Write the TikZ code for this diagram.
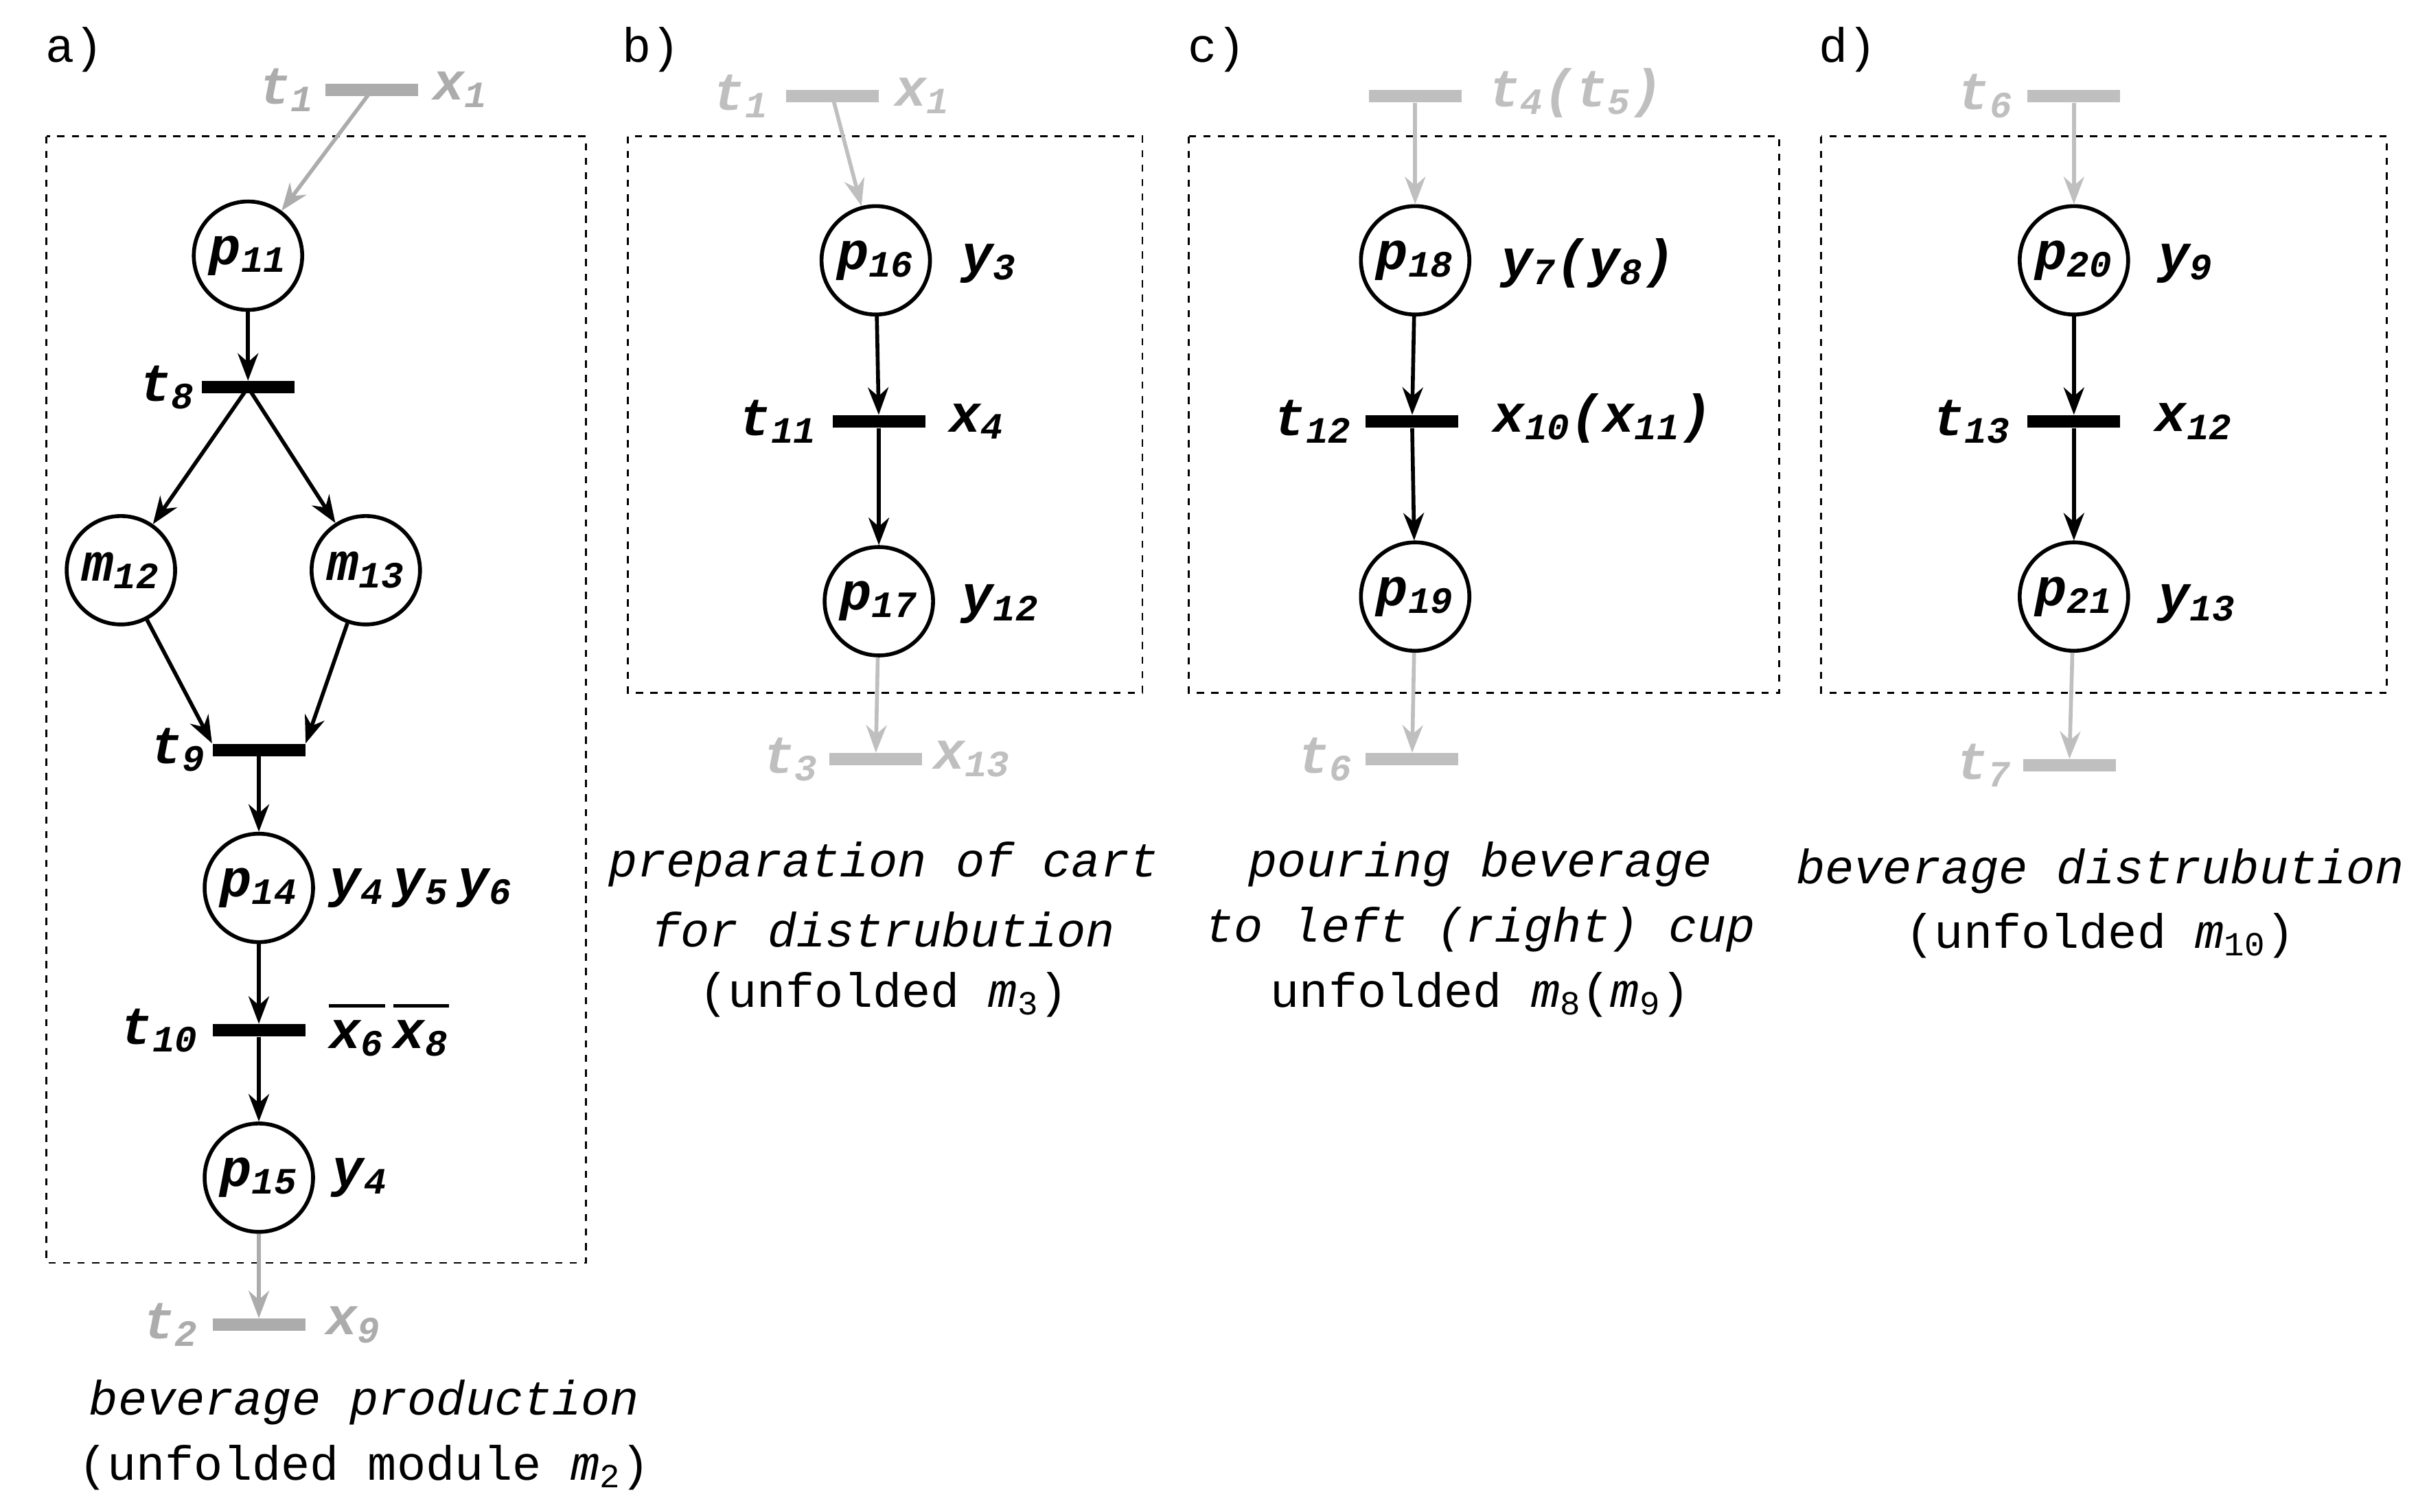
\documentclass[tikz,border=0pt]{standalone}
\usepackage{fontspec}
\setmonofont{Liberation Mono}
\usetikzlibrary{arrows.meta}
\newcommand{\lb}[2]{#1\textsubscript{#2}}
\newcommand{\ol}[1]{\rlap{\rule[0.78em]{1.05em}{1.2pt}}#1}
\tikzset{
    place/.style = {circle, draw, line width = 1.6pt, minimum size = 1.58cm, inner sep = 0pt},
    trans/.style = {fill = black, minimum width = 1.35cm, minimum height = 0.18cm, inner sep = 0pt},
    gtrans/.style = {fill = gray!50, minimum width = 1.35cm, minimum height = 0.18cm, inner sep = 0pt},
    lab/.style = {font = \fontsize{22}{26}\selectfont\ttfamily\bfseries\itshape, inner sep = 0pt},
    glab/.style = {lab, text = gray!50},
    capt/.style = {font = \fontsize{20}{25}\selectfont\ttfamily\itshape, align = center, inner sep = 0pt},
    captu/.style = {font = \fontsize{20}{25}\selectfont\ttfamily, inner sep = 0pt},
    arc/.style = {line width = 1.6pt, -{Stealth[length = 0.4cm, width = 0.3cm]}},
    garc/.style = {arc, gray!50},
    box/.style = {draw, dashed, line width = 0.8pt}
}
\begin{document}
\begin{tikzpicture}[x = 0.02258cm, y = -0.02258cm]
    \useasboundingbox (0, 0) rectangle (1560, 975.6);

    % Panel a
    \node [captu] (la) at (48, 32) {a)};
    \draw [box] (30, 88) rectangle (378, 815);
    \node [gtrans, fill = gray!65] (t1a) at (240, 58) {};
    \node [glab, text = gray!65] (t1al) at (185, 58) {\lb{t}{1}};
    \node [glab, text = gray!65] (x1al) at (297, 58) {\lb{x}{1}};
    \node [place] (p11) at (160, 165) {};
    \node [lab] at (p11) {\lb{p}{11}};
    \node [trans] (t8) at (160, 250) {};
    \node [lab] (t8l) at (108, 250) {\lb{t}{8}};
    \node [place] (m12) at (78, 368) {};
    \node [lab] at (m12) {\lb{m}{12}};
    \node [place] (m13) at (236, 368) {};
    \node [lab] at (m13) {\lb{m}{13}};
    \node [trans] (t9) at (167, 484) {};
    \node [lab] (t9l) at (115, 484) {\lb{t}{9}};
    \node [place] (p14) at (167, 573) {};
    \node [lab] at (p14) {\lb{p}{14}};
    \node [lab, anchor = west] (p14l) at (212, 573) {\lb{y}{4}\,\lb{y}{5}\,\lb{y}{6}};
    \node [trans] (t10) at (167, 665) {};
    \node [lab] (t10l) at (103, 665) {\lb{t}{10}};
    \node [lab, anchor = west] (t10r) at (212, 665) {\ol{x}\textsubscript{6}\,\ol{x}\textsubscript{8}};
    \node [place] (p15) at (167, 760) {};
    \node [lab] at (p15) {\lb{p}{15}};
    \node [lab, anchor = west] (p15l) at (214, 760) {\lb{y}{4}};
    \node [gtrans, fill = gray!65] (t2) at (167, 855) {};
    \node [glab, text = gray!65] (t2l) at (110, 855) {\lb{t}{2}};
    \node [glab, text = gray!65] (x9l) at (228, 855) {\lb{x}{9}};
    \node [capt] (ca1) at (235, 905) {beverage production};
    \node [captu] (ca2) at (235, 947) {(unfolded module \textit{m}\textsubscript{2})};

    \draw [garc, gray!65] (t1a.center) -- (p11);
    \draw [arc] (p11) -- (t8);
    \draw [arc] (t8.center) -- (m12);
    \draw [arc] (t8.center) -- (m13);
    \draw [arc] (m12) -- (t9.north west);
    \draw [arc] (m13) -- (t9.north east);
    \draw [arc] (t9) -- (p14);
    \draw [arc] (p14) -- (t10);
    \draw [arc] (t10) -- (p15);
    \draw [garc, gray!65] (p15) -- (t2);

    % Panel b
    \node [captu] (lb) at (420, 32) {b)};
    \draw [box] (405, 88) rectangle (737, 447);
    \node [gtrans] (t1b) at (537, 62) {};
    \node [glab] (t1bl) at (478, 62) {\lb{t}{1}};
    \node [glab] (x1bl) at (595, 62) {\lb{x}{1}};
    \node [place] (p16) at (565, 168) {};
    \node [lab] at (p16) {\lb{p}{16}};
    \node [lab, anchor = west] (p16l) at (620, 170) {\lb{y}{3}};
    \node [trans] (t11) at (567, 272) {};
    \node [lab] (t11l) at (502, 272) {\lb{t}{11}};
    \node [lab, anchor = west] (x4l) at (612, 272) {\lb{x}{4}};
    \node [place] (p17) at (567, 388) {};
    \node [lab] at (p17) {\lb{p}{17}};
    \node [lab, anchor = west] (p17l) at (620, 390) {\lb{y}{12}};
    \node [gtrans] (t3) at (565, 490) {};
    \node [glab] (t3l) at (510, 490) {\lb{t}{3}};
    \node [glab] (x13l) at (627, 490) {\lb{x}{13}};
    \node [capt] (cb1) at (570, 558) {preparation of cart};
    \node [capt] (cb2) at (570, 600) {for distrubution};
    \node [captu] (cb3) at (570, 642) {(unfolded \textit{m}\textsubscript{3})};

    \draw [garc] (t1b.center) -- (p16);
    \draw [arc] (p16) -- (t11);
    \draw [arc] (t11) -- (p17);
    \draw [garc] (p17) -- (t3);

    % Panel c
    \node [captu] (lc) at (785, 32) {c)};
    \draw [box] (767, 88) rectangle (1148, 447);
    \node [gtrans] (t4) at (913, 62) {};
    \node [glab, anchor = west] (t4l) at (960, 60) {\lb{t}{4}(\lb{t}{5})};
    \node [place] (p18) at (913, 168) {};
    \node [lab] at (p18) {\lb{p}{18}};
    \node [lab, anchor = west] (p18l) at (968, 170) {\lb{y}{7}(\lb{y}{8})};
    \node [trans] (t12) at (911, 272) {};
    \node [lab] (t12l) at (847, 272) {\lb{t}{12}};
    \node [lab, anchor = west] (x10l) at (963, 270) {\lb{x}{10}(\lb{x}{11})};
    \node [place] (p19) at (913, 385) {};
    \node [lab] at (p19) {\lb{p}{19}};
    \node [gtrans] (t6c) at (911, 490) {};
    \node [glab] (t6cl) at (855, 490) {\lb{t}{6}};
    \node [capt] (cc1) at (955, 558) {pouring beverage};
    \node [capt] (cc2) at (955, 600) {to left (right) cup};
    \node [captu] (cc3) at (955, 642) {unfolded \textit{m}\textsubscript{8}(\textit{m}\textsubscript{9})};

    \draw [garc] (t4) -- (p18);
    \draw [arc] (p18) -- (t12);
    \draw [arc] (t12) -- (p19);
    \draw [garc] (p19) -- (t6c);

    % Panel d
    \node [captu] (ld) at (1192, 32) {d)};
    \draw [box] (1175, 88) rectangle (1540, 447);
    \node [gtrans] (t6d) at (1338, 62) {};
    \node [glab] (t6dl) at (1281, 62) {\lb{t}{6}};
    \node [place] (p20) at (1338, 168) {};
    \node [lab] at (p20) {\lb{p}{20}};
    \node [lab, anchor = west] (p20l) at (1392, 170) {\lb{y}{9}};
    \node [trans] (t13) at (1338, 272) {};
    \node [lab] (t13l) at (1272, 272) {\lb{t}{13}};
    \node [lab, anchor = west] (x12l) at (1390, 272) {\lb{x}{12}};
    \node [place] (p21) at (1338, 385) {};
    \node [lab] at (p21) {\lb{p}{21}};
    \node [lab, anchor = west] (p21l) at (1392, 390) {\lb{y}{13}};
    \node [gtrans] (t7) at (1335, 494) {};
    \node [glab] (t7l) at (1280, 494) {\lb{t}{7}};
    \node [capt] (cd1) at (1355, 562) {beverage distrubution};
    \node [captu] (cd2) at (1355, 604) {(unfolded \textit{m}\textsubscript{10})};

    \draw [garc] (t6d) -- (p20);
    \draw [arc] (p20) -- (t13);
    \draw [arc] (t13) -- (p21);
    \draw [garc] (p21) -- (t7);
\end{tikzpicture}
\end{document}
